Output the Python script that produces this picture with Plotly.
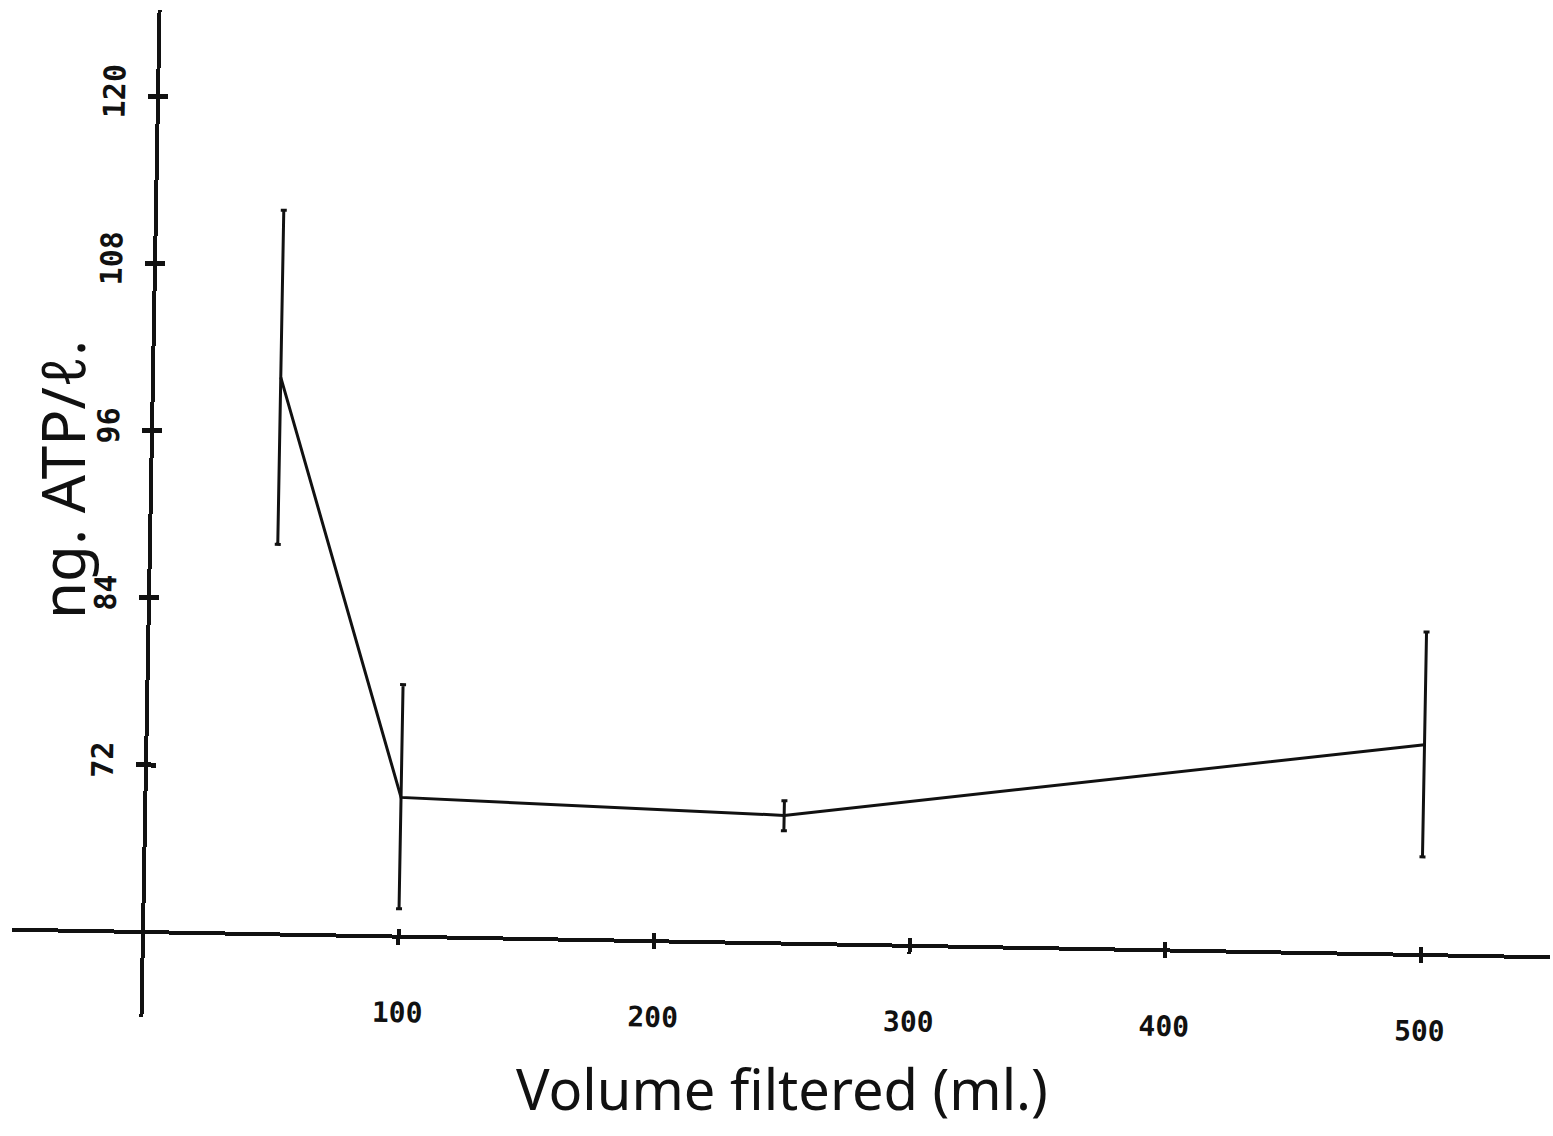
import plotly.graph_objects as go

# Volume filtered (ml) and measured ATP concentration (ng/l) with spread
volume_ml = [50, 100, 250, 500]
atp_ng_per_l = [100.0, 70.0, 69.2, 75.1]
err_plus = [12.0, 8.1, 1.05, 8.1]
err_minus = [12.0, 8.0, 1.1, 8.05]

x_ticks = [100, 200, 300, 400, 500]
x_tick_labels = ["100", "200", "300", "400", "500"]
y_ticks = [72, 84, 96, 108, 120]
y_tick_labels = ["72", "84", "96", "108", "120"]

W, H = 1553, 1136
X_RANGE = [-51.25, 550.5]
Y_RANGE = [53.9, 126.2]
X_DOM = [12 / W, 1550 / W]
Y_DOM = [1 - 1017 / H, 1 - 10 / H]

# paper positions where the axes cross (x = 0, y = 60)
y_axis_pos = X_DOM[0] + (0 - X_RANGE[0]) / (X_RANGE[1] - X_RANGE[0]) * (X_DOM[1] - X_DOM[0])
x_axis_pos = Y_DOM[0] + (60 - Y_RANGE[0]) / (Y_RANGE[1] - Y_RANGE[0]) * (Y_DOM[1] - Y_DOM[0])

INK = "#111111"
X_TICK_FONT = dict(family="DejaVu Sans Mono", size=28, color=INK, weight="bold")
Y_TICK_FONT = dict(family="DejaVu Sans Mono", size=30, color=INK, weight="bold")
HAND_FONT = dict(family="Noto Sans", color=INK)

fig = go.Figure()
fig.add_trace(go.Scatter(
    x=volume_ml, y=atp_ng_per_l, mode="lines",
    line=dict(color=INK, width=3),
    error_y=dict(type="data", array=err_plus, arrayminus=err_minus,
                 color=INK, thickness=3, width=3),
    showlegend=False, hoverinfo="skip",
))

common_x = dict(range=X_RANGE, domain=X_DOM, anchor="free", position=x_axis_pos,
                showgrid=False, zeroline=False, showline=True,
                linecolor=INK, linewidth=4, tickcolor=INK, tickwidth=4)
common_y = dict(range=Y_RANGE, domain=Y_DOM, anchor="free", position=y_axis_pos,
                showgrid=False, zeroline=False, showline=True,
                linecolor=INK, linewidth=4, tickcolor=INK, tickwidth=5)

fig.update_layout(
    width=W, height=H,
    margin=dict(l=0, r=0, t=0, b=0),
    paper_bgcolor="white", plot_bgcolor="white",
    xaxis=dict(**common_x, side="bottom", ticks="outside", ticklen=6,
               tickmode="array", tickvals=x_ticks, ticktext=x_tick_labels,
               tickfont=X_TICK_FONT, ticklabelstandoff=44),
    yaxis=dict(**common_y, side="left", ticks="outside", ticklen=8,
               tickmode="array", tickvals=y_ticks, ticktext=y_tick_labels,
               tickfont=Y_TICK_FONT, tickangle=-90, ticklabelstandoff=11),
    # twin axes give the ticks that cross the axis lines
    xaxis2=dict(**common_x, overlaying="x", side="top", ticks="outside", ticklen=6,
                tickmode="array", tickvals=[0] + x_ticks, showticklabels=False),
    yaxis2=dict(**common_y, overlaying="y", side="right", ticks="outside", ticklen=8,
                tickmode="array", tickvals=y_ticks, showticklabels=False),
    annotations=[
        dict(text="Volume filtered (ml.)", xref="paper", yref="paper",
             x=782 / W, y=1 - 1088 / H, xanchor="center", yanchor="middle",
             showarrow=False, font=dict(size=56, **HAND_FONT)),
        dict(text="ng. ATP/ℓ.", xref="paper", yref="paper",
             x=62 / W, y=1 - 480 / H, xanchor="center", yanchor="middle",
             showarrow=False, textangle=-90, font=dict(size=60, **HAND_FONT)),
    ],
)

# dummy trace so the twin axes are drawn
fig.add_trace(go.Scatter(x=[None], y=[None], xaxis="x2", yaxis="y2",
                         showlegend=False, hoverinfo="skip"))

# the pen plot sits slightly turned on the sheet; titles stay upright
tilt_js = """
var gd = document.getElementById('{plot_id}');
function tilt() {
  var s = gd.querySelector('.main-svg');
  if (s) { s.style.transformOrigin = '143px 932px'; s.style.transform = 'rotate(1.03deg)'; }
}
tilt();
if (gd.on) { gd.on('plotly_afterplot', tilt); }
"""

fig.write_html("out.html", post_script=tilt_js, config={"displayModeBar": False})
